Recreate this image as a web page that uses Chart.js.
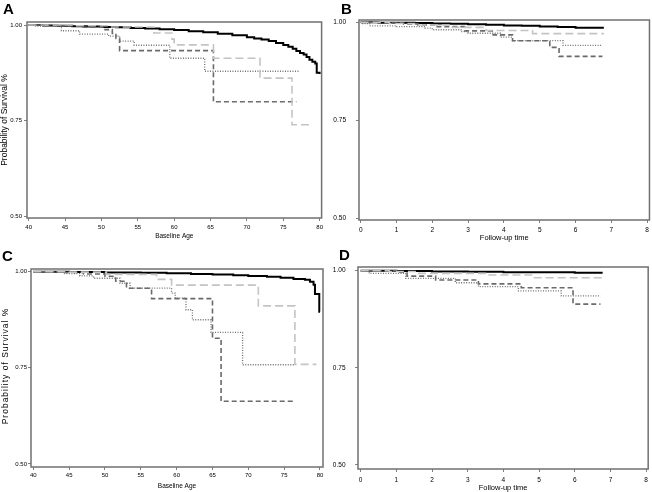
<!DOCTYPE html>
<html><head><meta charset="utf-8">
<script src="https://cdn.jsdelivr.net/npm/chart.js@4/dist/chart.umd.min.js"></script>
<style>
body{margin:0;background:#fff;width:652px;height:492px;position:relative;overflow:hidden}
canvas{position:absolute}
</style>
</head><body>
<canvas id="cA" width="326" height="240" style="left:0;top:0"></canvas>
<canvas id="cB" width="326" height="244" style="left:326px;top:0"></canvas>
<canvas id="cC" width="326" height="252" style="left:0;top:240px"></canvas>
<canvas id="cD" width="326" height="252" style="left:326px;top:240px"></canvas>
<script>
// ---- tick labels ----
const yTicks = [0.50, 0.75, 1.00];
const ageTicks = [40, 45, 50, 55, 60, 65, 70, 75, 80];
const timeTicks = [0, 1, 2, 3, 4, 5, 6, 7, 8];

// ---- Panel A (Baseline Age) ----
const A_black_t = [40, 42, 44, 46, 48, 50, 52, 54, 56, 58, 60, 62, 64, 66, 68, 70, 71, 72, 73, 74, 75, 75.7, 76.3, 76.8, 77.3, 77.8, 78.2, 78.6, 79.0, 79.4, 79.6, 80];
const A_black_s = [1.0, 0.999, 0.998, 0.997, 0.996, 0.995, 0.994, 0.992, 0.991, 0.989, 0.987, 0.984, 0.981, 0.977, 0.973, 0.968, 0.965, 0.962, 0.958, 0.953, 0.948, 0.943, 0.938, 0.932, 0.927, 0.923, 0.916, 0.909, 0.904, 0.899, 0.875, 0.872];
const A_light_t = [40, 46, 51, 57.2, 59.7, 60.0, 65.4, 71.8, 76.2, 78.6];
const A_light_s = [1.0, 0.998, 0.995, 0.979, 0.963, 0.948, 0.913, 0.861, 0.739, 0.739];
const A_dark_t = [40, 44, 47.5, 50.5, 51.5, 52.0, 52.5, 65.4, 76.8];
const A_dark_s = [1.0, 0.998, 0.994, 0.988, 0.978, 0.965, 0.933, 0.799, 0.799];
const A_dot_t = [40, 41, 44.5, 47, 51, 52.5, 54.5, 59.4, 64.2, 77.3];
const A_dot_s = [1.0, 0.997, 0.985, 0.976, 0.971, 0.958, 0.947, 0.913, 0.879, 0.879];

// ---- Panel B (Follow-up time) ----
const B_black_t = [0, 0.5, 1.0, 1.5, 2.0, 2.5, 3.0, 3.5, 4.0, 4.5, 5.0, 5.5, 6.0, 6.79];
const B_black_s = [1.0, 0.999, 0.999, 0.998, 0.997, 0.996, 0.995, 0.994, 0.992, 0.991, 0.989, 0.988, 0.986, 0.986];
const B_light_t = [0, 0.8, 1.5, 2.5, 3.5, 4.8, 6.79];
const B_light_s = [1.0, 0.997, 0.993, 0.987, 0.979, 0.971, 0.971];
const B_dark_t = [0, 0.5, 1.2, 1.6, 2.1, 2.9, 3.7, 4.24, 5.28, 5.54, 6.75];
const B_dark_s = [1.0, 0.998, 0.996, 0.993, 0.989, 0.978, 0.968, 0.953, 0.936, 0.913, 0.913];
const B_dot_t = [0, 0.05, 0.25, 1.0, 1.8, 2.0, 2.8, 3.0, 3.9, 4.24, 5.65, 6.73];
const B_dot_s = [1.0, 0.997, 0.991, 0.989, 0.985, 0.981, 0.976, 0.972, 0.962, 0.953, 0.941, 0.941];

// ---- Panel C (Baseline Age) ----
const C_black_t = [40, 45, 50, 55, 58.6, 62, 65, 67.9, 70, 72.6, 74.5, 76.3, 77.9, 78.6, 79.1, 79.3, 79.9, 80];
const C_black_s = [1.0, 0.999, 0.998, 0.997, 0.996, 0.994, 0.993, 0.991, 0.989, 0.987, 0.984, 0.981, 0.979, 0.974, 0.966, 0.942, 0.896, 0.896];
const C_light_t = [40, 45, 50.2, 57.2, 59.3, 71.4, 76.5, 79.5];
const C_light_s = [1.0, 0.999, 0.993, 0.980, 0.965, 0.911, 0.759, 0.759];
const C_dark_t = [40, 44, 47, 50, 51.5, 53, 56.5, 65.0, 66.2, 76.6];
const C_dark_s = [1.0, 0.998, 0.994, 0.988, 0.975, 0.957, 0.930, 0.827, 0.663, 0.663];
const C_dot_t = [40, 44.2, 46.5, 48.4, 52.1, 53.5, 59.3, 59.8, 61.3, 62.2, 64.8, 69.2, 76.4];
const C_dot_s = [1.0, 0.995, 0.989, 0.983, 0.970, 0.957, 0.944, 0.931, 0.901, 0.875, 0.842, 0.758, 0.758];

// ---- Panel D (Follow-up time) ----
const D_black_t = [0, 1, 2, 3, 4, 5, 6, 6.78];
const D_black_s = [1.0, 0.999, 0.998, 0.997, 0.996, 0.996, 0.995, 0.995];
const D_light_t = [0, 0.8, 1.6, 3.6, 4.79, 6.78];
const D_light_s = [1.0, 0.998, 0.993, 0.989, 0.982, 0.982];
const D_dark_t = [0, 1.0, 1.3, 2.1, 3.3, 4.5, 5.95, 6.72];
const D_dark_s = [1.0, 0.996, 0.986, 0.976, 0.966, 0.956, 0.914, 0.914];
const D_dot_t = [0, 0.24, 1.26, 2.65, 3.3, 4.42, 5.62, 6.72];
const D_dot_s = [1.0, 0.993, 0.980, 0.969, 0.959, 0.948, 0.935, 0.935];

const FONT = '"Liberation Sans", Arial, sans-serif';
const pts = (t, s) => t.map((v, i) => ({x: v, y: s[i]}));

const styles = {
  black: {borderColor: '#000', borderWidth: 2, borderDash: []},
  light: {borderColor: '#c4c4c4', borderWidth: 1.6, borderDash: [8, 4]},
  dark:  {borderColor: '#6a6a6a', borderWidth: 1.6, borderDash: [5, 3]},
  dot:   {borderColor: '#707070', borderWidth: 1.3, borderDash: [1, 1.5]}
};

function ds(t, s, kind) {
  return Object.assign({data: pts(t, s), showLine: true, stepped: true, pointRadius: 0, fill: false}, styles[kind]);
}

function makePanel(id, c) {
  const framePlugin = {
    id: 'frame' + id,
    afterDraw(chart) {
      const {ctx, chartArea: a} = chart;
      ctx.save();
      ctx.strokeStyle = '#707070';
      ctx.lineWidth = 1.5;
      ctx.setLineDash([]);
      ctx.strokeRect(a.left, a.top, a.right - a.left, a.bottom - a.top);
      ctx.fillStyle = '#000';
      ctx.font = 'bold 15px ' + FONT;
      ctx.textBaseline = 'alphabetic';
      ctx.textAlign = 'left';
      ctx.fillText(c.letter, c.lx, c.ly);
      if (c.spacedYTitle) {
        ctx.translate(c.spacedX, (a.top + a.bottom) / 2 - 2);
        ctx.rotate(-Math.PI / 2);
        ctx.font = c.spacedSize + 'px ' + FONT;
        ctx.letterSpacing = c.spacing + 'px';
        ctx.textAlign = 'center';
        ctx.textBaseline = 'middle';
        ctx.fillText(c.spacedYTitle, 0, 0);
      }
      ctx.restore();
    }
  };
  new Chart(document.getElementById(id), {
    type: 'scatter',
    data: {datasets: c.datasets},
    options: {
      responsive: false, animation: false, devicePixelRatio: 1,
      layout: {padding: c.pad},
      plugins: {legend: {display: false}, tooltip: {enabled: false}},
      scales: {
        x: {
          type: 'linear', min: c.xMin, max: c.xMax,
          afterBuildTicks: s => { s.ticks = c.xTicks.map(v => ({value: v})); },
          afterFit: s => { s.height = c.xH; },
          ticks: {font: {family: FONT, size: c.tickSize}, color: '#000', padding: c.xPad, maxRotation: 0, autoSkip: false,
                  callback: v => String(v)},
          grid: {drawOnChartArea: false, drawTicks: true, tickLength: 3, color: '#808080', lineWidth: 1},
          border: {display: false},
          title: {display: true, text: c.xTitle, color: '#000', font: {family: FONT, size: c.xTitleSize}, padding: {top: 0, bottom: c.xTitlePad}}
        },
        y: {
          type: 'linear', min: c.yMin, max: c.yMax,
          afterBuildTicks: s => { s.ticks = yTicks.map(v => ({value: v})); },
          afterFit: s => { s.width = c.yW; },
          ticks: {font: {family: FONT, size: c.tickSize}, color: '#000', padding: c.yPad, autoSkip: false,
                  callback: v => Number(v).toFixed(2)},
          grid: {drawOnChartArea: false, drawTicks: true, tickLength: 3, color: '#808080', lineWidth: 1},
          border: {display: false},
          title: {display: !!c.yTitle, text: c.yTitle || '', color: '#000', font: {family: FONT, size: c.yTitleSize || 8}, padding: {top: 0, bottom: 0}}
        }
      }
    },
    plugins: [framePlugin]
  });
}

makePanel('cA', {
  letter: 'A', lx: 3, ly: 14,
  pad: {left: 0, top: 22, right: 4, bottom: 0}, yW: 27, xH: 22,
  xMin: 39.77, xMax: 80.27, yMin: 0.4948, yMax: 1.0079, xTicks: ageTicks,
  tickSize: 6, xPad: 3, yPad: 2,
  xTitle: 'Baseline Age', xTitleSize: 6.5, xTitlePad: 0,
  yTitle: 'Probability of Survival %', yTitleSize: 8.5,
  datasets: [ds(A_light_t, A_light_s, 'light'), ds(A_dark_t, A_dark_s, 'dark'), ds(A_dot_t, A_dot_s, 'dot'), ds(A_black_t, A_black_s, 'black')]
});
makePanel('cB', {
  letter: 'B', lx: 15, ly: 13.5,
  pad: {left: 0, top: 20, right: 2, bottom: 0}, yW: 33, xH: 24,
  xMin: -0.047, xMax: 8.064, yMin: 0.4949, yMax: 1.0059, xTicks: timeTicks,
  tickSize: 6.5, xPad: 3, yPad: 10,
  xTitle: 'Follow-up time', xTitleSize: 7.5, xTitlePad: 1.5,
  datasets: [ds(B_light_t, B_light_s, 'light'), ds(B_dark_t, B_dark_s, 'dark'), ds(B_dot_t, B_dot_s, 'dot'), ds(B_black_t, B_black_s, 'black')]
});
makePanel('cC', {
  letter: 'C', lx: 2, ly: 20.5,
  pad: {left: 0, top: 29, right: 3, bottom: 0}, yW: 31, xH: 25,
  xMin: 39.68, xMax: 80.42, yMin: 0.492, yMax: 1.007, xTicks: ageTicks,
  tickSize: 6, xPad: 2, yPad: 1,
  xTitle: 'Baseline Age', xTitleSize: 6.5, xTitlePad: 1.4,
  spacedYTitle: 'Probability of Survival %', spacedX: 6, spacedSize: 8.5, spacing: 1,
  datasets: [ds(C_light_t, C_light_s, 'light'), ds(C_dark_t, C_dark_s, 'dark'), ds(C_dot_t, C_dot_s, 'dot'), ds(C_black_t, C_black_s, 'black')]
});
makePanel('cD', {
  letter: 'D', lx: 13, ly: 20,
  pad: {left: 0, top: 27, right: 2, bottom: 0}, yW: 32, xH: 23,
  xMin: -0.075, xMax: 8.056, yMin: 0.4897, yMax: 1.0095, xTicks: timeTicks,
  tickSize: 6.5, xPad: 4, yPad: 9.5,
  xTitle: 'Follow-up time', xTitleSize: 7.5, xTitlePad: 0,
  datasets: [ds(D_light_t, D_light_s, 'light'), ds(D_dark_t, D_dark_s, 'dark'), ds(D_dot_t, D_dot_s, 'dot'), ds(D_black_t, D_black_s, 'black')]
});
</script>
</body></html>
